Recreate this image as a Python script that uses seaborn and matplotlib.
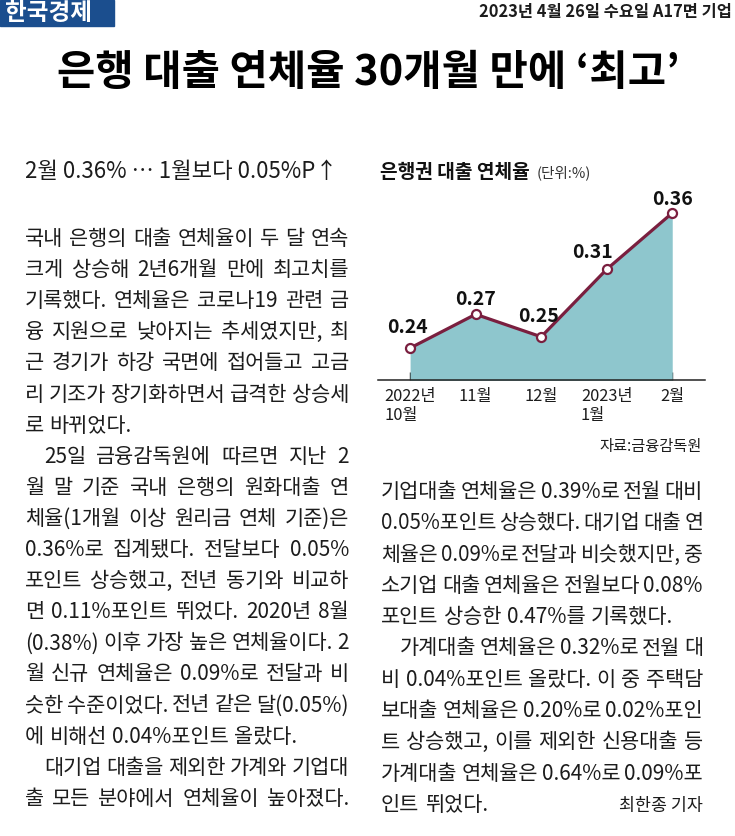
import matplotlib
matplotlib.use("Agg")

import pandas as pd
import matplotlib.pyplot as plt
from matplotlib.patches import Rectangle
import seaborn as sns


# =====================================
# DATA
# =====================================

months = ["2022년\n10월", "11월", "12월", "2023년\n1월", "2월"]

rates = [0.24, 0.27, 0.25, 0.31, 0.36]

paper_name = "한국경제"
paper_date = "2023년 4월 26일 수요일 A17면 기업"
headline = "은행 대출 연체율 30개월 만에 ‘최고’"
subhead = "2월 0.36% ⋯ 1월보다 0.05%P↑"
chart_title = "은행권 대출 연체율"
chart_unit = "(단위:%)"
chart_source = "자료:금융감독원"
byline = "최한종 기자"

left_paragraphs = [
    [
        "국내 은행의 대출 연체율이 두 달 연속",
        "크게 상승해 2년6개월 만에 최고치를",
        "기록했다. 연체율은 코로나19 관련 금",
        "융 지원으로 낮아지는 추세였지만, 최",
        "근 경기가 하강 국면에 접어들고 고금",
        "리 기조가 장기화하면서 급격한 상승세",
        "로 바뀌었다.",
    ],
    [
        "25일 금융감독원에 따르면 지난 2",
        "월 말 기준 국내 은행의 원화대출 연",
        "체율(1개월 이상 원리금 연체 기준)은",
        "0.36%로 집계됐다. 전달보다 0.05%",
        "포인트 상승했고, 전년 동기와 비교하",
        "면 0.11%포인트 뛰었다. 2020년 8월",
        "(0.38%) 이후 가장 높은 연체율이다. 2",
        "월 신규 연체율은 0.09%로 전달과 비",
        "슷한 수준이었다. 전년 같은 달(0.05%)",
        "에 비해선 0.04%포인트 올랐다.",
    ],
    [
        "대기업 대출을 제외한 가계와 기업대",
        "출 모든 분야에서 연체율이 높아졌다.",
    ],
]

right_paragraphs = [
    [
        "기업대출 연체율은 0.39%로 전월 대비",
        "0.05%포인트 상승했다. 대기업 대출 연",
        "체율은 0.09%로 전달과 비슷했지만, 중",
        "소기업 대출 연체율은 전월보다 0.08%",
        "포인트 상승한 0.47%를 기록했다.",
    ],
    [
        "가계대출 연체율은 0.32%로 전월 대",
        "비 0.04%포인트 올랐다. 이 중 주택담",
        "보대출 연체율은 0.20%로 0.02%포인",
        "트 상승했고, 이를 제외한 신용대출 등",
        "가계대출 연체율은 0.64%로 0.09%포",
        "인트 뛰었다.",
    ],
]


# =====================================
# STYLE
# =====================================

sns.set_theme(style="white")

plt.rcParams["font.family"] = ["Noto Sans CJK KR", "DejaVu Sans"]

W, H = 735, 836

fill_color = "#8ec6cd"
line_color = "#7a1f3f"
logo_color = "#1b4e8e"
ink = "#1c1c1c"

fig = plt.figure(figsize=(W / 100, H / 100), dpi=100)
fig.patch.set_facecolor("white")

renderer = fig.canvas.get_renderer()


def fx(px):
    return px / W


def fy(py):
    return 1 - py / H


# =====================================
# MASTHEAD + HEADLINE
# =====================================

fig.patches.append(
    Rectangle(
        (0, fy(26)), fx(114), 26 / H,
        transform=fig.transFigure,
        color=logo_color,
        zorder=0
    )
)

fig.text(fx(5), fy(13), paper_name, color="white",
         fontsize=17, fontweight="bold", va="center", ha="left")

fig.text(fx(732), fy(12), paper_date, color=ink,
         fontsize=11.8, fontweight="bold", va="center", ha="right")

fig.text(fx(368), fy(73), headline, color="black",
         fontsize=30, fontweight="bold", va="center", ha="center")

fig.text(fx(25), fy(172), subhead, color=ink,
         fontsize=16, va="center", ha="left")


# =====================================
# BODY TEXT (justified)
# =====================================

body_size = 15


def put_line(x0, x1, base_y, text, justify, indent=0, size=body_size):
    words = text.split(" ")
    objs = [
        fig.text(0, 0, w, fontsize=size, color=ink,
                 ha="left", va="baseline")
        for w in words
    ]
    widths = [o.get_window_extent(renderer).width for o in objs]
    natural_gap = size * 100 / 72 * 0.26
    room = x1 - x0 - indent - sum(widths)
    if room < 3 * (len(words) - 1):
        # too long: shrink and retry
        for o in objs:
            o.remove()
        put_line(x0, x1, base_y, text, justify, indent, size - 0.2)
        return
    if len(words) > 1 and (justify or room < natural_gap * (len(words) - 1) * 2.2):
        gap = room / (len(words) - 1)
    else:
        gap = natural_gap
    x = x0 + indent
    for o, w in zip(objs, widths):
        o.set_position((fx(x), fy(base_y)))
        x += w + gap


def put_column(paragraphs, x0, x1, first_y, step):
    row = 0
    for p, lines in enumerate(paragraphs):
        for i, line in enumerate(lines):
            indent = 19 if (i == 0 and p > 0) else 0
            last = i == len(lines) - 1
            put_line(x0, x1, first_y + row * step + 8, line,
                     justify=not last, indent=indent)
            row += 1
    return row


put_column(left_paragraphs, 25, 349, 237, 31.1)

n_right = put_column(right_paragraphs, 381, 703, 490, 31.3)

fig.text(fx(703), fy(490 + (n_right - 1) * 31.3 + 8), byline,
         fontsize=12.5, color=ink, ha="right", va="baseline")


# =====================================
# CHART
# =====================================

df = pd.DataFrame({"pos": range(len(rates)), "rate": rates})

ax = fig.add_axes([fx(378), fy(380), fx(705) - fx(378), (380 - 150) / H])
ax.patch.set_alpha(0)

ax.fill_between(df["pos"], df["rate"], 0, color=fill_color, lw=0, zorder=1)

sns.lineplot(
    data=df,
    x="pos",
    y="rate",
    ax=ax,
    color=line_color,
    linewidth=2.3,
    marker="o",
    markersize=6.5,
    markerfacecolor="white",
    markeredgecolor=line_color,
    markeredgewidth=1.6,
    zorder=3
)

ax.set_xlim(-0.49, 4.5)
ax.set_ylim(0.2116, 0.416)

for side in ["top", "right", "left"]:
    ax.spines[side].set_visible(False)
ax.spines["bottom"].set_color("#222222")
ax.spines["bottom"].set_linewidth(1.1)

ax.set_yticks([])
ax.set_xticks(df["pos"], labels=months)
ax.tick_params(axis="x", bottom=True, direction="in", length=5.5, width=1.0,
               color="#222222", pad=6, labelsize=11.8, labelcolor=ink)
for lbl in ax.get_xticklabels():
    lbl.set_multialignment("left")
    lbl.set_linespacing(1.15)

ax.set_xlabel("")
ax.set_ylabel("")

# label offsets in pixels (dx, baseline above point)
label_offsets = [(-3, 15), (0, 9), (-3, 15), (-14, 11), (0, 8)]

for (i, v), (dx, dy) in zip(enumerate(rates), label_offsets):
    ax.annotate(
        f"{v:.2f}",
        (i, v),
        xytext=(dx * 0.72, dy * 0.72),
        textcoords="offset points",
        ha="center",
        va="baseline",
        fontsize=14,
        fontweight="bold",
        color="#111111",
        zorder=4
    )

fig.text(fx(380), fy(172), chart_title, fontsize=13.8, fontweight="bold",
         color="#111111", ha="left", va="center")

fig.text(fx(537), fy(173), chart_unit, fontsize=10.5,
         color="#333333", ha="left", va="center")

fig.text(fx(702), fy(447), chart_source, fontsize=11,
         color=ink, ha="right", va="center")


# =====================================
# SAVE
# =====================================

fig.savefig("out.png", dpi=100, facecolor="white")

plt.close(fig)
